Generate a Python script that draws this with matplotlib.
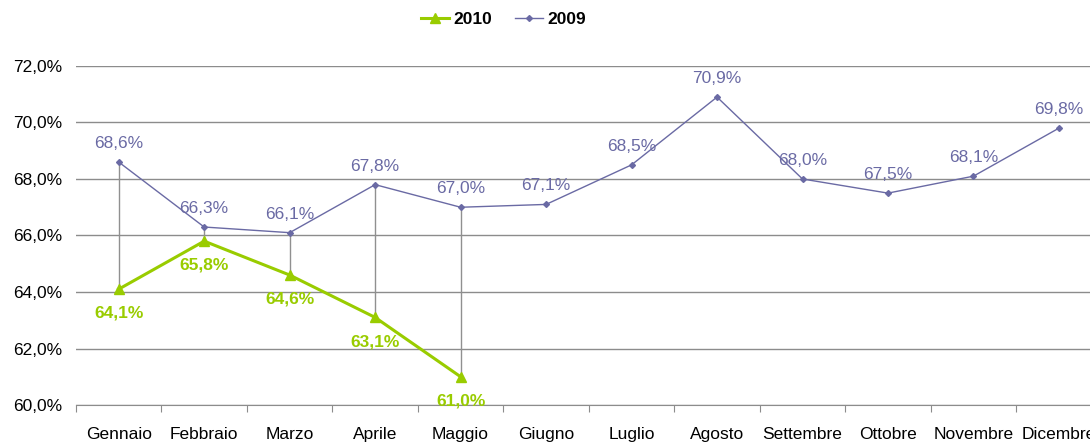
import matplotlib.pyplot as plt
import numpy as np

plt.rcParams['font.family'] = ['Liberation Sans', 'DejaVu Sans']

# dati
mesi = ['Gennaio', 'Febbraio', 'Marzo', 'Aprile', 'Maggio', 'Giugno', 'Luglio',
        'Agosto', 'Settembre', 'Ottobre', 'Novembre', 'Dicembre']
v2009 = [68.6, 66.3, 66.1, 67.8, 67.0, 67.1, 68.5, 70.9, 68.0, 67.5, 68.1, 69.8]
v2010 = [64.1, 65.8, 64.6, 63.1, 61.0]

col09 = '#6a6aa4'
col10 = '#99cc00'
fs = 12.5

def fmt(v):
    return ('%.1f%%' % v).replace('.', ',')

fig = plt.figure(figsize=(10.9, 4.42), dpi=100)
ax = fig.add_axes([0.0697, 0.0837, 0.941, 0.767])

x = np.arange(len(mesi))
x10 = x[:len(v2010)]

# linee alto-basso tra le due serie
ax.vlines(x10, v2010, v2009[:len(v2010)], color='#909090', lw=1, zorder=1)

l10, = ax.plot(x10, v2010, color=col10, lw=2.2, marker='^', ms=7, zorder=3, label='2010')
l09, = ax.plot(x, v2009, color=col09, lw=1, marker='D', ms=3, zorder=2, label='2009')

for xi, v in zip(x, v2009):
    ax.annotate(fmt(v), (xi, v), xytext=(0, 8), textcoords='offset points',
                ha='center', va='bottom', color=col09, fontsize=fs)
for xi, v in zip(x10, v2010):
    ax.annotate(fmt(v), (xi, v), xytext=(0, -12), textcoords='offset points',
                ha='center', va='top', color=col10, fontsize=fs, fontweight='bold')

ax.set_xlim(-0.5, len(mesi) - 0.5)
ax.set_ylim(60, 72)
ax.set_yticks(np.arange(60, 72.1, 2))
ax.set_yticklabels([fmt(v) for v in np.arange(60, 72.1, 2)], fontsize=fs)
ax.yaxis.grid(True, color='#8c8c8c', lw=1)
ax.set_axisbelow(True)
ax.tick_params(axis='y', length=0, pad=10)

ax.set_xticks(np.arange(-0.5, len(mesi), 1))
ax.set_xticklabels([])
ax.set_xticks(x, minor=True)
ax.set_xticklabels(mesi, minor=True, fontsize=fs)
ax.tick_params(axis='x', which='major', direction='out', length=5, color='#8c8c8c')
ax.tick_params(axis='x', which='minor', length=0, pad=16)

for s in ['top', 'right', 'left']:
    ax.spines[s].set_visible(False)
ax.spines['bottom'].set_color('#8c8c8c')

leg = fig.legend(handles=[l10, l09], loc='center', bbox_to_anchor=(0.462, 0.955),
                 ncol=2, frameon=False, prop={'weight': 'bold', 'size': fs},
                 handlelength=1.6, columnspacing=1.3, handletextpad=0.25)

fig.savefig('out.png', dpi=100)
